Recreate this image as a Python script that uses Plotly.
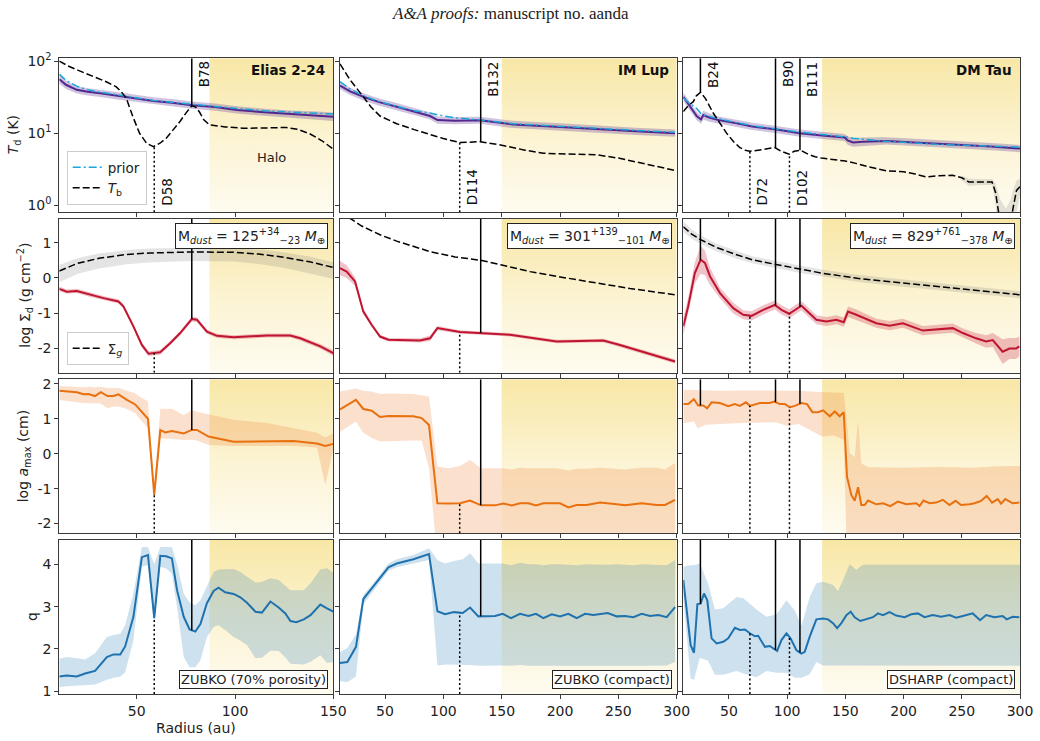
import numpy as np
import plotly.graph_objects as go

# ======================= DATA =======================
disk_names = ["Elias 2-24", "IM Lup", "DM Tau"]
opacity_labels = ["ZUBKO (70% porosity)", "ZUBKO (compact)", "DSHARP (compact)"]
mdust = [125, 301, 829]
mdust_up = [34, 139, 761]
mdust_lo = [23, 101, 378]
halo_start = [87, 150, 130]
r_range = [[10.6, 150], [11.4, 300], [10.8, 300]]
r_ticks = [[50, 100, 150], [50, 100, 150, 200, 250, 300], [50, 100, 150, 200, 250, 300]]

td_ticks = [1, 10, 100]
td_ticktext = ["10<sup>0</sup>", "10<sup>1</sup>", "10<sup>2</sup>"]
sd_ticks = [-2, -1, 0, 1]
sd_ticktext = ["-2", "-1", "0", "1"]
am_ticks = [-2, -1, 0, 1, 2]
am_ticktext = ["-2", "-1", "0", "1", "2"]
q_ticks = [1, 2, 3, 4]
q_ticktext = ["1", "2", "3", "4"]

# ---- Elias 2-24 ----
eli_b_pos = [78]; eli_b_lab = ["B78"]
eli_d_pos = [58.9]; eli_d_lab = ["D58"]
eli_td_r = [10.6, 14, 19.5, 25, 31.4, 40, 50, 58.5, 68, 78, 90, 101, 115, 130, 140, 150]
eli_td = [56, 47, 40, 37.5, 35.8, 33, 30, 28, 26.5, 24.5, 23, 21, 19.5, 18.3, 17.6, 16.9]
eli_td_err = [0.06, 0.06, 0.05, 0.05, 0.05, 0.05, 0.05, 0.05, 0.05, 0.05, 0.05, 0.05, 0.05, 0.05, 0.06, 0.06]
eli_prior = [66, 54, 45, 40, 37, 34, 31, 28.5, 26.8, 25, 23.5, 22, 20.5, 19.5, 19, 18.4]
eli_tb_r = [10.6, 15, 20, 25, 30, 35, 39.6, 42, 44.7, 48, 51.4, 55, 58.5, 62, 65, 68.6, 72, 75, 78, 80,
            82, 84, 87, 95, 104, 115, 126, 132, 138, 144, 150]
eli_tb = [100, 86, 75, 66, 58, 51, 44, 38, 30.5, 17, 10, 7.2, 6.5, 7.3, 8.5, 11, 14.5, 19, 24, 23,
          19.5, 15.5, 13, 12.2, 11.7, 11.8, 12, 11.3, 9.8, 7.9, 6.0]
eli_sd_r = [10.6, 14.4, 19.5, 26.3, 33.1, 40.7, 43.2, 48.3, 52.6, 56, 61.9, 67, 72.1, 78, 80.6, 85.7,
            90.8, 99.3, 116.2, 128.1, 133.2, 143.4, 150]
eli_sd = [-0.31, -0.39, -0.37, -0.48, -0.575, -0.67, -0.81, -1.38, -1.91, -2.16, -2.12, -1.86, -1.57,
          -1.17, -1.19, -1.53, -1.65, -1.69, -1.64, -1.64, -1.72, -1.95, -2.14]
eli_sd_err = [0.07, 0.06, 0.06, 0.06, 0.06, 0.06, 0.06, 0.06, 0.07, 0.07, 0.07, 0.06, 0.06, 0.07, 0.07,
              0.06, 0.06, 0.06, 0.06, 0.06, 0.06, 0.07, 0.08]
eli_sg_r = [10.6, 20, 30.8, 45, 56.3, 78, 99.3, 112, 124.8, 138, 150]
eli_sg = [0.2, 0.42, 0.56, 0.67, 0.71, 0.74, 0.73, 0.68, 0.59, 0.46, 0.30]
eli_sg_hi = [0.37, 0.57, 0.70, 0.80, 0.84, 0.86, 0.85, 0.81, 0.73, 0.61, 0.45]
eli_sg_lo = [-0.12, 0.12, 0.27, 0.39, 0.44, 0.48, 0.47, 0.40, 0.29, 0.13, -0.03]
eli_am_r = [10.6, 19.5, 22.9, 25.4, 28.8, 31.7, 35.1, 38.2, 40.7, 45, 49.2, 51.8, 55.7, 58.9, 62, 64.5,
            67.9, 73.9, 78, 80.6, 86.5, 99.3, 116.2, 129.8, 141.7, 145.9, 150]
eli_am = [1.80, 1.76, 1.70, 1.71, 1.65, 1.76, 1.65, 1.65, 1.70, 1.54, 1.41, 1.25, 1.00, -1.18, 0.68, 0.61,
          0.65, 0.58, 0.68, 0.68, 0.49, 0.34, 0.34, 0.36, 0.29, 0.22, 0.28]
eli_am_hi = [1.94, 1.91, 1.90, 1.92, 1.90, 1.92, 1.88, 1.88, 1.88, 1.80, 1.73, 1.62, 1.50, -0.90, 1.29, 1.29,
             1.29, 1.10, 1.25, 1.20, 1.13, 0.97, 0.88, 0.74, 0.60, 0.46, 0.58]
eli_am_lo = [1.54, 1.47, 1.45, 1.46, 1.44, 1.44, 1.30, 1.35, 1.35, 1.28, 1.16, 0.98, 0.73, -1.30, 0.44, 0.42,
             0.42, 0.39, 0.40, 0.38, 0.25, 0.22, 0.22, 0.22, 0.18, -0.89, 0.15]
eli_q_r = [10.6, 14.4, 19.5, 23.7, 28.8, 34.8, 38.2, 41.6, 44.1, 48.3, 52.6, 55.7, 58.9, 62, 65, 67.9, 70.5,
           73.9, 76.9, 79.8, 82.4, 85.7, 89.1, 91.6, 95, 99.3, 102.7, 106.1, 110.4, 113.7, 118, 122.2, 125.6,
           128.2, 131.2, 135, 138.4, 143.4, 146.8, 150]
eli_q = [1.35, 1.37, 1.35, 1.42, 1.48, 1.81, 1.87, 1.87, 2.06, 2.76, 4.17, 4.22, 2.73, 4.20, 4.19, 4.14, 3.39,
         2.76, 2.46, 2.41, 2.59, 3.08, 3.37, 3.45, 3.34, 3.30, 3.22, 3.09, 2.88, 2.86, 3.12, 2.98, 2.84,
         2.66, 2.63, 2.70, 2.80, 3.05, 2.96, 2.88]
eli_q_hi = [1.77, 1.81, 1.78, 1.75, 1.90, 2.28, 2.33, 2.36, 2.56, 3.31, 4.41, 4.41, 4.00, 4.41, 4.41, 4.41, 4.01,
            3.31, 3.10, 3.03, 3.15, 3.47, 3.82, 3.88, 3.88, 3.89, 3.82, 3.71, 3.57, 3.58, 3.67, 3.63, 3.50,
            3.39, 3.39, 3.39, 3.55, 3.88, 3.91, 3.80]
eli_q_lo = [1.10, 1.12, 1.14, 1.15, 1.16, 1.27, 1.32, 1.34, 1.45, 2.20, 3.94, 3.98, 2.60, 3.94, 3.90, 3.78, 2.99,
            1.81, 1.57, 1.57, 1.73, 2.28, 2.52, 2.56, 2.45, 2.28, 2.20, 2.09, 1.78, 1.79, 1.96, 1.95, 1.80,
            1.65, 1.64, 1.63, 1.70, 1.85, 1.67, 1.69]

# ---- IM Lup ----
iml_b_pos = [132]; iml_b_lab = ["B132"]
iml_d_pos = [114]; iml_d_lab = ["D114"]
iml_td_r = [11.4, 20, 31.4, 45, 60, 75, 88.6, 95, 110, 131.4, 160, 200, 231.4, 265, 298.6]
iml_td = [45.7, 38, 32, 27, 23.3, 20, 17.3, 15.2, 14.9, 15.1, 13.2, 12.2, 11.3, 10.6, 10.0]
iml_td_err = [0.05, 0.05, 0.05, 0.05, 0.05, 0.05, 0.05, 0.05, 0.05, 0.05, 0.05, 0.05, 0.05, 0.05, 0.05]
iml_prior = [52, 41, 33, 27.5, 23.5, 20.5, 19.0, 18.0, 16.3, 15.3, 13.5, 12.4, 11.6, 10.9, 10.3]
iml_tb_r = [11.4, 20, 31.4, 38, 45.7, 60, 75, 88.6, 100, 114.3, 131.4, 150, 170, 185.7, 210, 231.4, 250, 275, 300]
iml_tb = [91.6, 55, 32, 23, 17.3, 13.5, 11.2, 9.6, 8.4, 7.4, 7.6, 6.8, 5.8, 5.25, 5.1, 5.0, 4.5, 3.7, 3.0]
iml_sd_r = [11.4, 17.1, 24.3, 31.4, 38.6, 45.7, 52.9, 80, 88.6, 94.9, 114.3, 132.9, 157.1, 197.1, 237.1,
            251.4, 274.3, 298.6]
iml_sd = [0.28, 0.18, -0.10, -0.96, -1.34, -1.67, -1.76, -1.78, -1.72, -1.43, -1.54, -1.57, -1.62, -1.81,
          -1.78, -1.91, -2.14, -2.38]
iml_sd_err = [0.2, 0.18, 0.12, 0.08, 0.06, 0.05, 0.05, 0.06, 0.08, 0.06, 0.05, 0.05, 0.05, 0.05, 0.05,
              0.05, 0.06, 0.06]
iml_sg_r = [11.4, 21.4, 30, 45.7, 60, 88.6, 110, 132.9, 150, 174.3, 200, 231.4, 260, 298.6]
iml_sg = [1.85, 1.67, 1.48, 1.23, 1.05, 0.75, 0.60, 0.50, 0.37, 0.18, 0.03, -0.15, -0.30, -0.48]
iml_am_r = [11.4, 25.1, 31.4, 38.6, 45.7, 52.9, 74.3, 81.4, 87.7, 94.9, 104.3, 114.3, 122.9, 132.3, 144.3,
            151.4, 158.6, 165.7, 172.9, 179.4, 185.7, 192.9, 200, 207.1, 214.3, 222.9, 234.3, 248.6, 255.7,
            270, 282.9, 290, 298.6]
iml_am = [1.27, 1.54, 1.28, 1.23, 1.05, 1.08, 1.07, 1.02, 0.82, -1.42, -1.43, -1.42, -1.34, -1.48, -1.48,
          -1.43, -1.48, -1.42, -1.42, -1.48, -1.42, -1.43, -1.42, -1.54, -1.47, -1.47, -1.40, -1.45, -1.48,
          -1.42, -1.47, -1.47, -1.32]
iml_am_hi = [1.78, 1.87, 1.80, 1.78, 1.71, 1.72, 1.71, 1.68, 1.64, -0.37, -0.42, -0.35, -0.18, -0.42, -0.42,
             -0.42, -0.45, -0.40, -0.42, -0.42, -0.40, -0.42, -0.43, -0.48, -0.43, -0.43, -0.40, -0.43, -0.45,
             -0.40, -0.40, -0.45, -0.27]
iml_am_lo = [0.63, 0.92, 0.60, 0.45, 0.35, 0.36, 0.38, 0.38, -0.42, -3.0, -3.0, -3.0, -3.0, -3.0, -3.0,
             -3.0, -3.0, -3.0, -3.0, -3.0, -3.0, -3.0, -3.0, -3.0, -3.0, -3.0, -3.0, -3.0, -3.0,
             -3.0, -3.0, -3.0, -3.0]
iml_q_r = [11.4, 17.7, 25.1, 31.4, 38.6, 45.7, 52.9, 60, 74.3, 87.7, 94.9, 101.4, 109.1, 116.6, 122.9, 130,
           144.3, 150.9, 158, 165.7, 172.9, 179.4, 185.7, 192.9, 200, 207.1, 214.3, 221.4, 228.6, 240.9,
           248.6, 255.7, 262.9, 270, 277.1, 284.3, 291.4, 298.6]
iml_q = [1.67, 1.69, 2.05, 3.18, 3.43, 3.68, 3.93, 4.02, 4.12, 4.24, 2.89, 2.82, 2.87, 2.85, 2.98, 2.77,
         2.78, 2.83, 2.73, 2.83, 2.78, 2.83, 2.73, 2.82, 2.77, 2.83, 2.73, 2.83, 2.80, 2.85,
         2.77, 2.78, 2.75, 2.83, 2.78, 2.80, 2.75, 2.99]
iml_q_hi = [1.92, 2.02, 2.35, 3.28, 3.50, 3.75, 4.02, 4.12, 4.22, 4.38, 4.10, 4.02, 4.08, 4.12, 4.26, 4.02,
            4.02, 4.02, 3.98, 4.04, 4.00, 4.00, 3.98, 4.00, 4.00, 3.99, 3.98, 4.00, 3.99, 3.99,
            4.00, 3.99, 3.98, 4.00, 3.99, 3.99, 3.98, 4.10]
iml_q_lo = [1.24, 1.21, 1.35, 3.05, 3.31, 3.58, 3.85, 3.93, 4.02, 4.10, 1.61, 1.63, 1.62, 1.62, 1.62, 1.60,
            1.61, 1.61, 1.60, 1.62, 1.60, 1.61, 1.60, 1.61, 1.60, 1.61, 1.60, 1.61, 1.60, 1.60,
            1.60, 1.60, 1.60, 1.60, 1.60, 1.60, 1.61, 1.69]

# ---- DM Tau ----
dmt_b_pos = [25.5, 90, 111]; dmt_b_lab = ["B24", "B90", "B111"]
dmt_d_pos = [68, 102]; dmt_d_lab = ["D72", "D102"]
dmt_td_r = [10.8, 16, 22.3, 26, 28, 33, 40, 56.6, 70, 89.4, 110.9, 130, 149.4, 152, 156.6, 165, 185, 205,
            228, 250, 275, 300]
dmt_td = [32, 24, 17.3, 15.5, 17.8, 16.5, 15.3, 13.7, 12.4, 11.3, 10.0, 9.3, 8.7, 7.9, 7.4, 7.6, 7.8, 7.5,
          7.2, 6.9, 6.5, 6.1]
dmt_td_err = [0.06, 0.06, 0.06, 0.06, 0.06, 0.06, 0.05, 0.05, 0.05, 0.05, 0.05, 0.05, 0.05, 0.06, 0.06,
              0.06, 0.05, 0.05, 0.05, 0.05, 0.05, 0.05]
dmt_prior = [31, 26, 22, 18.7, 18, 17, 16, 14.0, 12.7, 11.5, 10.3, 9.6, 9.0, 8.8, 8.5, 8.2, 7.7, 7.4,
             7.0, 6.8, 6.6, 6.4]
dmt_tb_r = [10.8, 15, 19.4, 22, 25.7, 30, 36.6, 42, 48, 54, 59.4, 64, 68, 75, 82, 89.4, 95, 101.7, 106,
            111.4, 118, 124, 129.4, 140, 150, 159, 170, 185, 200, 210, 219, 230, 242, 250, 256, 265, 276,
            279, 281, 283, 285, 288, 291, 294, 297, 300]
dmt_tb = [19.9, 24, 27.4, 33, 37, 30, 18.9, 14, 10, 7.6, 6.3, 5.8, 5.6, 5.8, 6.0, 6.3, 5.6, 5.1, 5.6,
          5.8, 5.1, 4.7, 4.5, 4.3, 4.1, 3.8, 3.4, 3.0, 2.9, 2.7, 2.47, 2.55, 2.6, 2.4, 2.1, 2.1, 2.1,
          1.5, 0.9, 0.5, 0.35, 0.3, 0.45, 0.9, 1.6, 1.8]
dmt_tbb_r = [250, 256, 265, 276, 279, 281, 283, 288, 292, 294, 297, 300]
dmt_tbb_hi = [2.6, 2.35, 2.3, 2.3, 2.0, 1.6, 1.2, 0.9, 1.2, 1.6, 2.2, 2.3]
dmt_tbb_lo = [2.2, 1.85, 1.9, 1.9, 1.0, 0.3, 0.2, 0.1, 0.2, 0.3, 0.8, 1.4]
dmt_sd_r = [10.8, 15, 20.7, 25.7, 29.4, 33.7, 42.3, 53.7, 62.3, 69.4, 79.4, 89.4, 95.1, 101.7, 112.3,
            125.1, 133.7, 142.3, 148.6, 152.3, 159.4, 176.6, 188, 199.4, 216.6, 242.3, 250.9, 262.3,
            270.9, 276.6, 285.1, 290.9, 296.6, 299.4]
dmt_sd = [-1.38, -0.81, 0.14, 0.52, 0.43, 0.05, -0.43, -0.86, -1.05, -1.08, -0.91, -0.77, -0.91, -1.02,
          -0.79, -1.19, -1.24, -1.19, -1.26, -0.96, -1.05, -1.29, -1.36, -1.29, -1.50, -1.43, -1.57, -1.72,
          -1.81, -1.77, -2.10, -2.01, -2.01, -1.95]
dmt_sd_err = [0.25, 0.25, 0.3, 0.4, 0.35, 0.25, 0.15, 0.15, 0.13, 0.13, 0.13, 0.13, 0.13, 0.13, 0.13,
              0.13, 0.13, 0.13, 0.13, 0.15, 0.15, 0.13, 0.13, 0.13, 0.13, 0.13, 0.13, 0.15, 0.18, 0.2,
              0.35, 0.3, 0.3, 0.28]
dmt_sg_r = [10.8, 18, 25.7, 40, 56.6, 70, 89.4, 110, 129.4, 160, 199.4, 240, 270, 300]
dmt_sg = [1.46, 1.25, 1.09, 0.86, 0.66, 0.52, 0.39, 0.25, 0.14, -0.01, -0.15, -0.29, -0.38, -0.48]
dmt_sg_err = [0.15, 0.13, 0.12, 0.11, 0.11, 0.1, 0.1, 0.1, 0.1, 0.1, 0.1, 0.1, 0.1, 0.1]
dmt_am_r = [10.8, 15, 19.9, 23.6, 27.9, 31.3, 35.1, 42.3, 49.4, 55.1, 59.4, 64.6, 68, 76.6, 85.1, 88.9,
            93.7, 98, 102.3, 106.6, 112.3, 117.1, 121.7, 126.6, 130.9, 136.6, 140.9, 145.1, 148.6, 151.4,
            155.1, 158, 160.9, 163.7, 166.6, 169.4, 176.6, 182.3, 188.6, 195.1, 202.3, 210.9, 213.7, 217.1,
            222.3, 228, 233.7, 239.4, 244.6, 249.4, 256.6, 260.9, 266.6, 271.4, 276, 280.9, 283.7, 287.4,
            293.7, 299.4]
dmt_am = [1.42, 1.42, 1.56, 1.38, 1.38, 1.30, 1.47, 1.45, 1.36, 1.42, 1.37, 1.47, 1.37, 1.45, 1.45, 1.49,
          1.42, 1.42, 1.33, 1.37, 1.45, 1.42, 1.19, 1.19, 1.24, 1.07, 1.21, 1.07, 1.19, -0.66,
          -1.18, -1.35, -0.96, -1.47, -1.47, -1.34, -1.45, -1.42, -1.50, -1.37, -1.45, -1.42, -1.50, -1.34,
          -1.42, -1.40, -1.32, -1.47, -1.35, -1.47, -1.45, -1.42, -1.35, -1.21, -1.40, -1.30, -1.43, -1.30,
          -1.42, -1.40]
dmt_amb_r = [10.8, 20, 23, 30, 42, 60, 90, 100, 110, 120, 130, 140, 148.6, 151.4, 153.7, 158, 160.9, 163.7,
             170, 200, 230, 260, 280, 300]
dmt_am_hi = [1.83, 1.82, 1.80, 1.81, 1.80, 1.81, 1.81, 1.80, 1.80, 1.78, 1.76, 1.75, 1.74, 0.90, 0.03, -0.10,
             0.95, -0.28, -0.39, -0.40, -0.38, -0.40, -0.36, -0.35]
dmt_am_lo = [0.87, 0.92, 0.73, 0.83, 0.85, 0.88, 0.90, 0.80, 0.85, 0.66, 0.49, 0.52, 0.40, -3.0, -3.0, -3.0,
             -3.0, -3.0, -3.0, -3.0, -3.0, -3.0, -3.0, -3.0]
dmt_q_r = [10.8, 14.3, 17.1, 20, 22.9, 25.7, 28.6, 31.4, 35.1, 39.4, 45.1, 49.4, 55.1, 59.4, 63.7, 68, 72.3,
           75.1, 80.9, 85.1, 88, 91.4, 95.1, 99.4, 102.9, 108, 112.3, 115.1, 119.4, 125.1, 130.9, 135.1,
           139.4, 142.9, 146.6, 150.9, 154.6, 158, 162.9, 168, 173.7, 178, 182.3, 188, 193.7, 200.9, 206.6,
           212.3, 218, 225.1, 232.3, 239.4, 245.1, 250.9, 259.4, 265.7, 270.9, 278, 285.1, 288.6, 293.7, 299.4]
dmt_q = [3.63, 2.84, 2.09, 1.91, 3.06, 3.07, 3.31, 3.15, 2.25, 2.13, 2.17, 2.25, 2.50, 2.45, 2.46, 2.37, 2.30,
         2.31, 2.05, 2.07, 2.01, 1.95, 2.21, 2.37, 2.25, 1.97, 1.89, 1.93, 2.29, 2.70, 2.72, 2.70,
         2.61, 2.49, 2.61, 2.80, 2.88, 2.75, 2.66, 2.71, 2.75, 2.84, 2.80, 2.87, 2.79, 2.75, 2.82,
         2.84, 2.75, 2.80, 2.76, 2.80, 2.74, 2.78, 2.84, 2.68, 2.80, 2.75, 2.78, 2.70, 2.76, 2.75]
dmt_qb_r = [10.8, 17, 20, 25, 32, 38, 45, 56.6, 62.3, 73.7, 82.3, 90.9, 99.4, 106.6, 112.3, 119.4, 125.1,
            130.9, 139.4, 143.7, 148, 153.7, 159.4, 165, 200, 250, 300]
dmt_q_hi = [3.94, 3.98, 3.98, 4.02, 3.55, 2.93, 2.96, 3.23, 3.20, 2.93, 2.76, 2.82, 3.15, 2.91, 2.55, 3.23,
            3.55, 3.59, 3.51, 3.37, 3.63, 4.00, 3.87, 3.99, 3.99, 3.99, 3.99]
dmt_q_lo = [3.23, 1.30, 1.27, 1.79, 1.72, 1.39, 1.39, 1.48, 1.42, 1.33, 1.48, 1.44, 1.44, 1.32, 1.32, 1.40,
            1.69, 1.61, 1.60, 1.60, 1.61, 1.60, 1.60, 1.60, 1.60, 1.60, 1.60]

# ======================= TABLE =======================
disks = [
    dict(td_r=eli_td_r, td=eli_td, td_err=eli_td_err, prior=eli_prior, tb_r=eli_tb_r, tb=eli_tb,
         tbb=None, sd_r=eli_sd_r, sd=eli_sd, sd_err=eli_sd_err, sg_r=eli_sg_r, sg=eli_sg,
         sg_lo=eli_sg_lo, sg_hi=eli_sg_hi, am_r=eli_am_r, am=eli_am, amb_r=eli_am_r, am_lo=eli_am_lo,
         am_hi=eli_am_hi, q_r=eli_q_r, q=eli_q, qb_r=eli_q_r, q_lo=eli_q_lo, q_hi=eli_q_hi,
         b_pos=eli_b_pos, b_lab=eli_b_lab, d_pos=eli_d_pos, d_lab=eli_d_lab),
    dict(td_r=iml_td_r, td=iml_td, td_err=iml_td_err, prior=iml_prior, tb_r=iml_tb_r, tb=iml_tb,
         tbb=None, sd_r=iml_sd_r, sd=iml_sd, sd_err=iml_sd_err, sg_r=iml_sg_r, sg=iml_sg,
         sg_lo=None, sg_hi=None, am_r=iml_am_r, am=iml_am, amb_r=iml_am_r, am_lo=iml_am_lo,
         am_hi=iml_am_hi, q_r=iml_q_r, q=iml_q, qb_r=iml_q_r, q_lo=iml_q_lo, q_hi=iml_q_hi,
         b_pos=iml_b_pos, b_lab=iml_b_lab, d_pos=iml_d_pos, d_lab=iml_d_lab),
    dict(td_r=dmt_td_r, td=dmt_td, td_err=dmt_td_err, prior=dmt_prior, tb_r=dmt_tb_r, tb=dmt_tb,
         tbb=(dmt_tbb_r, dmt_tbb_lo, dmt_tbb_hi), sd_r=dmt_sd_r, sd=dmt_sd, sd_err=dmt_sd_err,
         sg_r=dmt_sg_r, sg=dmt_sg,
         sg_lo=list(np.array(dmt_sg) - np.array(dmt_sg_err)), sg_hi=list(np.array(dmt_sg) + np.array(dmt_sg_err)),
         am_r=dmt_am_r, am=dmt_am, amb_r=dmt_amb_r, am_lo=dmt_am_lo, am_hi=dmt_am_hi,
         q_r=dmt_q_r, q=dmt_q, qb_r=dmt_qb_r, q_lo=dmt_q_lo, q_hi=dmt_q_hi,
         b_pos=dmt_b_pos, b_lab=dmt_b_lab, d_pos=dmt_d_pos, d_lab=dmt_d_lab),
]

# ======================= LAYOUT / STYLE =======================
W, H = 1040, 741
COLS = [(59.3, 333.3), (340.0, 676.7), (683.3, 1020.0)]
ROWS = [(58.3, 212.3), (219.0, 372.7), (379.3, 533.3), (540.0, 694.0)]
YR = [[-0.1, 2.04], [-2.70, 1.68], [-2.28, 2.13], [0.935, 4.575]]
FONT = "DejaVu Sans"
C_TD = "#54278f"; C_TD_BAND = "rgba(84,39,143,0.28)"
C_PRIOR = "#1ca6d9"
C_SD = "#c01530"; C_SD_BAND = "rgba(200,30,55,0.27)"
C_AM = "#e8700e"; C_AM_BAND = "rgba(238,130,60,0.25)"
C_Q = "#1f72ae"; C_Q_BAND = "rgba(31,119,180,0.22)"
C_G_BAND = "rgba(120,120,120,0.2)"
HALO_SCALE = [[0, "rgb(254,251,240)"], [0.45, "rgb(252,244,213)"], [1, "rgb(248,231,166)"]]

fig = go.Figure()


def refs(r, c):
    i = r * 3 + c + 1
    s = "" if i == 1 else str(i)
    return "x" + s, "y" + s, "xaxis" + s, "yaxis" + s


def add(tr, r, c):
    xa, ya, _, _ = refs(r, c)
    tr.update(xaxis=xa, yaxis=ya)
    fig.add_trace(tr)


def band(xs, lo, hi, color, r, c):
    xs = list(xs)
    add(go.Scatter(x=xs + xs[::-1], y=list(hi) + list(lo)[::-1], fill="toself", fillcolor=color,
                   line=dict(width=0), mode="lines", hoverinfo="skip", showlegend=False), r, c)


def line(xs, ys, color, width, r, c, dash="solid", **kw):
    add(go.Scatter(x=list(xs), y=list(ys), mode="lines", line=dict(color=color, width=width, dash=dash),
                   hoverinfo="skip", **kw), r, c)


for c, d in enumerate(disks):
    # halo shaded regions
    for r in range(4):
        lo, hi = YR[r]
        if r == 0:
            lo, hi = 10 ** lo, 10 ** hi
        x0, x1 = halo_start[c], r_range[c][1]
        add(go.Scatter(x=[x0, x1, x1, x0, x0], y=[lo, lo, hi, hi, lo], mode="lines", fill="toself",
                       fillgradient=dict(type="vertical", colorscale=HALO_SCALE),
                       line=dict(width=0), hoverinfo="skip", showlegend=False), r, c)

    # row 0 : temperatures
    td = np.array(d["td"]); err = np.array(d["td_err"])
    band(d["td_r"], td * 10 ** (-err), td * 10 ** err, C_TD_BAND, 0, c)
    if d["tbb"] is not None:
        band(d["tbb"][0], d["tbb"][1], d["tbb"][2], C_G_BAND, 0, c)
    line(d["td_r"], d["td"], C_TD, 2, 0, c, showlegend=False)
    line(d["td_r"], d["prior"], C_PRIOR, 1.5, 0, c, dash="8px,3px,2px,3px",
         name="prior", showlegend=(c == 0), legend="legend", legendrank=1)
    line(d["tb_r"], d["tb"], "black", 1.5, 0, c, dash="7px,3px",
         name="<i>T</i><sub>b</sub>", showlegend=(c == 0), legend="legend", legendrank=2)

    # row 1 : surface densities
    if d["sg_lo"] is not None:
        band(d["sg_r"], d["sg_lo"], d["sg_hi"], C_G_BAND, 1, c)
    line(d["sg_r"], d["sg"], "black", 1.5, 1, c, dash="7px,3px",
         name="Σ<sub><i>g</i></sub>", showlegend=(c == 0), legend="legend2")
    sd = np.array(d["sd"]); se = np.array(d["sd_err"])
    band(d["sd_r"], sd - se, sd + se, C_SD_BAND, 1, c)
    line(d["sd_r"], d["sd"], C_SD, 2, 1, c, showlegend=False)

    # row 2 : a_max
    band(d["amb_r"], d["am_lo"], d["am_hi"], C_AM_BAND, 2, c)
    line(d["am_r"], d["am"], C_AM, 2, 2, c, showlegend=False)

    # row 3 : q
    band(d["qb_r"], d["q_lo"], d["q_hi"], C_Q_BAND, 3, c)
    line(d["q_r"], d["q"], C_Q, 2, 3, c, showlegend=False)

    # rings (B) and gaps (D)
    curves = [(d["tb_r"], d["tb"], True), (d["sd_r"], d["sd"], False),
              (d["am_r"], d["am"], False), (d["q_r"], d["q"], False)]
    for r, (cx, cy, islog) in enumerate(curves):
        top, bot = YR[r][1], YR[r][0]
        for kind, plist in (("B", d["b_pos"]), ("D", d["d_pos"])):
            for p in plist:
                if islog:
                    v = 10 ** np.interp(p, cx, np.log10(cy))
                    tp, bt = 10 ** top, 10 ** bot
                else:
                    v = float(np.interp(p, cx, cy))
                    tp, bt = top, bot
                if kind == "B":
                    line([p, p], [tp, v], "black", 1.5, r, c, showlegend=False)
                else:
                    line([p, p], [bt, v], "black", 1.5, r, c, dash="2px,2.5px", showlegend=False)

layout = dict(
    width=W, height=H, margin=dict(l=0, r=0, t=0, b=0), template="none",
    paper_bgcolor="white", plot_bgcolor="white", showlegend=True,
    font=dict(family=FONT, size=14, color="#222"),
)
axis_common = dict(showline=True, linecolor="#3a3a3a", linewidth=1, mirror=True, ticks="outside",
                   ticklen=4, tickwidth=1, tickcolor="#3a3a3a", showgrid=False, zeroline=False,
                   tickfont=dict(family=FONT, size=14, color="#222"))
yticks = [(td_ticks, td_ticktext), (sd_ticks, sd_ticktext), (am_ticks, am_ticktext), (q_ticks, q_ticktext)]
for r in range(4):
    for c in range(3):
        xa, ya, xk, yk = refs(r, c)
        layout[xk] = dict(axis_common, domain=[COLS[c][0] / W, COLS[c][1] / W], range=r_range[c],
                          anchor=ya, tickmode="array", tickvals=r_ticks[c], showticklabels=(r == 3))
        ykw = dict(axis_common, domain=[1 - ROWS[r][1] / H, 1 - ROWS[r][0] / H], anchor=xa,
                   tickmode="array", tickvals=yticks[r][0], ticktext=yticks[r][1],
                   showticklabels=(c == 0), range=YR[r])
        if r == 0:
            ykw["type"] = "log"
        layout[yk] = ykw

layout["legend"] = dict(x=66.7 / W, y=1 - 205 / H, xanchor="left", yanchor="bottom",
                        bgcolor="rgba(255,255,255,0.85)", bordercolor="#cccccc", borderwidth=1,
                        font=dict(family=FONT, size=13.5, color="#222"), itemwidth=30, tracegroupgap=0)
layout["legend2"] = dict(x=66.7 / W, y=1 - 365 / H, xanchor="left", yanchor="bottom",
                         bgcolor="rgba(255,255,255,0.85)", bordercolor="#cccccc", borderwidth=1,
                         font=dict(family=FONT, size=13.5, color="#222"), itemwidth=30)
fig.update_layout(**layout)

ann = []
ann.append(dict(text="<i>A&amp;A proofs:</i> manuscript no. aanda", x=510 / W, y=1 - 13 / H, xref="paper",
                yref="paper", showarrow=False, xanchor="center", yanchor="middle",
                font=dict(family="Liberation Serif", size=17, color="#222")))
ytitles = ["<i>T</i><sub>d</sub> (K)", "log Σ<sub>d</sub> (g cm<sup>−2</sup>)",
           "log <i>a</i><sub>max</sub> (cm)", "q"]
ytx = [14, 25, 24, 32]
for r in range(4):
    ann.append(dict(text=ytitles[r], x=ytx[r] / W, y=1 - (ROWS[r][0] + ROWS[r][1]) / 2 / H, xref="paper",
                    yref="paper", showarrow=False, textangle=-90, xanchor="center", yanchor="middle",
                    font=dict(family=FONT, size=14, color="#222")))
ann.append(dict(text="Radius (au)", x=(COLS[0][0] + COLS[0][1]) / 2 / W, y=1 - 728 / H, xref="paper",
                yref="paper", showarrow=False, xanchor="center", yanchor="middle",
                font=dict(family=FONT, size=14, color="#222")))
for c, d in enumerate(disks):
    xa, ya, _, _ = refs(0, c)
    ann.append(dict(text="<b>%s</b>" % disk_names[c], x=(COLS[c][1] - 6) / W, y=1 - 70.5 / H, xref="paper",
                    yref="paper", showarrow=False, xanchor="right", yanchor="middle",
                    font=dict(family=FONT, size=13.5, color="#111")))
    ann.append(dict(text="M<sub><i>dust</i></sub> = %d<sup>+%d</sup><sub>−%d</sub> <i>M</i><sub>⊕</sub>"
                    % (mdust[c], mdust_up[c], mdust_lo[c]),
                    x=(COLS[c][1] - 5) / W, y=1 - 223 / H, xref="paper", yref="paper", showarrow=False,
                    xanchor="right", yanchor="top", bgcolor="white", bordercolor="#222", borderwidth=1,
                    borderpad=2, font=dict(family=FONT, size=14, color="#222")))
    ann.append(dict(text=opacity_labels[c], x=(COLS[c][1] - 5) / W, y=1 - 689.3 / H, xref="paper",
                    yref="paper", showarrow=False, xanchor="right", yanchor="bottom", bgcolor="white",
                    bordercolor="#222", borderwidth=1, borderpad=1,
                    font=dict(family=FONT, size=13, color="#222")))
    for p, lab in zip(d["b_pos"], d["b_lab"]):
        ann.append(dict(text=lab, x=p, y=1 - 59.5 / H, xref=xa, yref="paper", showarrow=False, textangle=-90,
                        xanchor="left", yanchor="top", xshift=2,
                        font=dict(family=FONT, size=13.5, color="#111")))
    for p, lab in zip(d["d_pos"], d["d_lab"]):
        ann.append(dict(text=lab, x=p, y=1 - 207.5 / H, xref=xa, yref="paper", showarrow=False, textangle=-90,
                        xanchor="left", yanchor="bottom", xshift=2,
                        font=dict(family=FONT, size=13.5, color="#111")))
ann.append(dict(text="Halo", x=118.6, y=1 - 157.7 / H, xref="x", yref="paper", showarrow=False,
                xanchor="center", yanchor="middle", font=dict(family=FONT, size=13, color="#222")))
fig.update_layout(annotations=ann)

fig.write_html("out.html")
